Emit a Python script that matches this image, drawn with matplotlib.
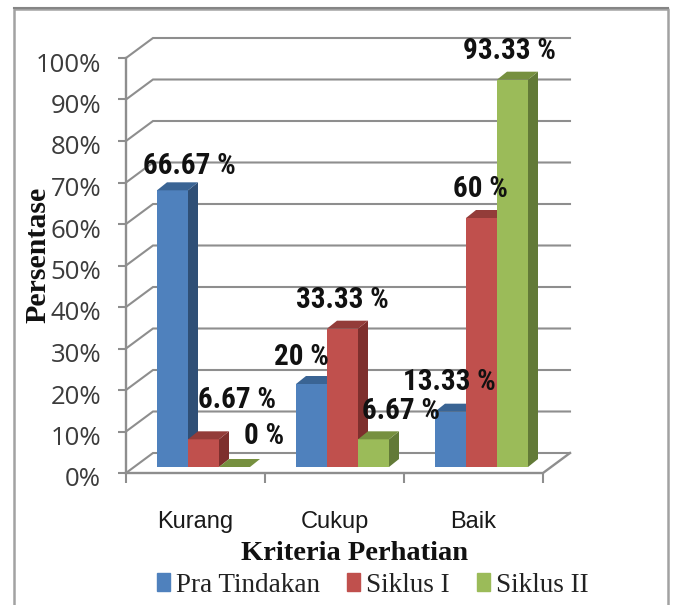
import matplotlib
matplotlib.use("Agg")
import matplotlib.pyplot as plt
import matplotlib.transforms as mtrans
from matplotlib.lines import Line2D
from matplotlib.patches import Patch, Polygon

kategori = ["Kurang", "Cukup", "Baik"]
pra_tindakan = [66.67, 20, 13.33]
siklus_1 = [6.67, 33.33, 60]
siklus_2 = [0, 6.67, 93.33]
label_pra = ["66.67 %", "20 %", "13.33 %"]
label_s1 = ["6.67 %", "33.33 %", "60 %"]
label_s2 = ["0 %", "6.67 %", "93.33 %"]
y_ticks = [0, 10, 20, 30, 40, 50, 60, 70, 80, 90, 100]

W, H = 675, 605
fig = plt.figure(figsize=(W / 100, H / 100), dpi=100, facecolor="white")
ax = fig.add_axes([126 / W, (H - 473) / H, 417 / W, 415 / H])
ax.set_xlim(0, 3)
ax.set_ylim(0, 100)
ax.set_facecolor("none")

# pixel sizes turned into data units, the chart is a fake 3D box
px_x = 3 / 417
px_y = 100 / 415
wall_dx, wall_dy = 27 * px_x, 20 * px_y
inset_dx, inset_dy = 8.4 * px_x, 6 * px_y
bar_dx, bar_dy = 10 * px_x, 8 * px_y
bar_w = 31 * px_x
first_bar = 22.6 * px_x

grid_col = "#8e8e8e"

# floor and back wall lines
for v in y_ticks:
    ax.plot([0, wall_dx, 3 + wall_dx], [v, v + wall_dy, v + wall_dy],
            color=grid_col, lw=1.5, clip_on=False, zorder=1, solid_joinstyle="miter")
ax.plot([0, 3, 3 + wall_dx], [0, 0, wall_dy], color=grid_col, lw=1.7, clip_on=False, zorder=1)

series = [
    (pra_tindakan, "#4f81bd", "#2f4f76", "#3a6494", label_pra, [(17, 24), (-10, 27), (-1, 30)]),
    (siklus_1, "#c0504d", "#7e2f2d", "#933c39", label_s1, [(33, 39), (0, 29), (-1, 29)]),
    (siklus_2, "#9bbb59", "#627a37", "#76903f", label_s2, [(30, 31), (28, 28), (-3, 29)]),
]

z = 3
for c in range(len(kategori)):
    for s, (vals, col, side, top, labels, offs) in enumerate(series):
        v = vals[c]
        x0 = c + first_bar + inset_dx + s * bar_w
        x1 = x0 + bar_w
        b = inset_dy
        if v > 0:
            ax.bar(x0, v, bar_w, bottom=b, align="edge", color=col, lw=0, zorder=z, clip_on=False)
            ax.add_patch(Polygon([(x1, b), (x1, b + v), (x1 + bar_dx, b + v + bar_dy), (x1 + bar_dx, b + bar_dy)],
                                 closed=True, fc=side, lw=0, zorder=z, clip_on=False))
        ax.add_patch(Polygon([(x0, b + v), (x1, b + v), (x1 + bar_dx, b + v + bar_dy), (x0 + bar_dx, b + v + bar_dy)],
                             closed=True, fc=top, lw=0, zorder=z, clip_on=False))
        z += 1

# data labels go on top of every bar
for s, (vals, col, side, top, labels, offs) in enumerate(series):
    for c, v in enumerate(vals):
        xc = c + first_bar + inset_dx + (s + 0.5) * bar_w
        ax.annotate(labels[c], (xc, v + inset_dy), xytext=(offs[c][0] * 0.72, offs[c][1] * 0.72),
                    textcoords="offset points", ha="center", va="center", zorder=50,
                    fontsize=21, fontweight="bold", family=["Roboto Condensed", "Liberation Sans"],
                    color="#111111", annotation_clip=False)

for sp in ax.spines.values():
    sp.set_visible(False)
ax.spines["left"].set_visible(True)
ax.spines["left"].set_color(grid_col)
ax.spines["left"].set_linewidth(1.7)

ax.set_yticks(y_ticks)
ax.set_yticklabels(["%d%%" % v for v in y_ticks], fontsize=18.5, family="Open Sans", color="#3c3c3c")
ax.tick_params(axis="y", length=6, width=1.5, color=grid_col, pad=12)
shift_down = mtrans.ScaledTranslation(0, -4 / 100, fig.dpi_scale_trans)
for t in ax.get_yticklabels():
    t.set_transform(t.get_transform() + shift_down)

ax.set_xticks([0, 1, 2, 3])
ax.set_xticklabels([])
ax.set_xticks([0.5, 1.5, 2.5], minor=True)
ax.set_xticklabels(kategori, minor=True, fontsize=17, family="Liberation Sans", color="#1a1a1a")
ax.tick_params(axis="x", which="major", length=7.5, width=1.5, color=grid_col)
ax.tick_params(axis="x", which="minor", length=0, pad=27.5)

fig.text(354 / W, 1 - 554 / H, "Kriteria Perhatian", ha="center", va="center",
         fontsize=20.5, fontweight="bold", family="Liberation Serif", color="#111111")
fig.text(38 / W, 1 - 255 / H, "Persentase", ha="center", va="center", rotation=90,
         fontsize=21.5, fontweight="bold", family="Liberation Serif", color="#111111")

handles = [Patch(color=series[0][1]), Patch(color=series[1][1]), Patch(color=series[2][1])]
fig.legend(handles, ["Pra Tindakan", "Siklus I", "Siklus II"], ncol=3, frameon=False,
           loc="center", bbox_to_anchor=(372.5 / W, 1 - 585 / H),
           prop={"family": "Liberation Serif", "size": 19.5}, handlelength=0.5, handleheight=0.6,
           handletextpad=0.2, columnspacing=1.0, labelcolor="#222222")

# grey outer frame, runs off the bottom, top edge is a bit darker
frame_x = [14.5, 14.5, 668, 668]
frame_y = [605, 8.5, 8.5, 605]
fig.add_artist(Line2D([x / W for x in frame_x], [1 - y / H for y in frame_y],
                      color="#a2a2a2", lw=1.8, transform=fig.transFigure))
fig.add_artist(Line2D([14.5 / W, 668 / W], [1 - 8 / H, 1 - 8 / H],
                      color="#858585", lw=1.5, transform=fig.transFigure))

fig.savefig("out.png", dpi=100)
